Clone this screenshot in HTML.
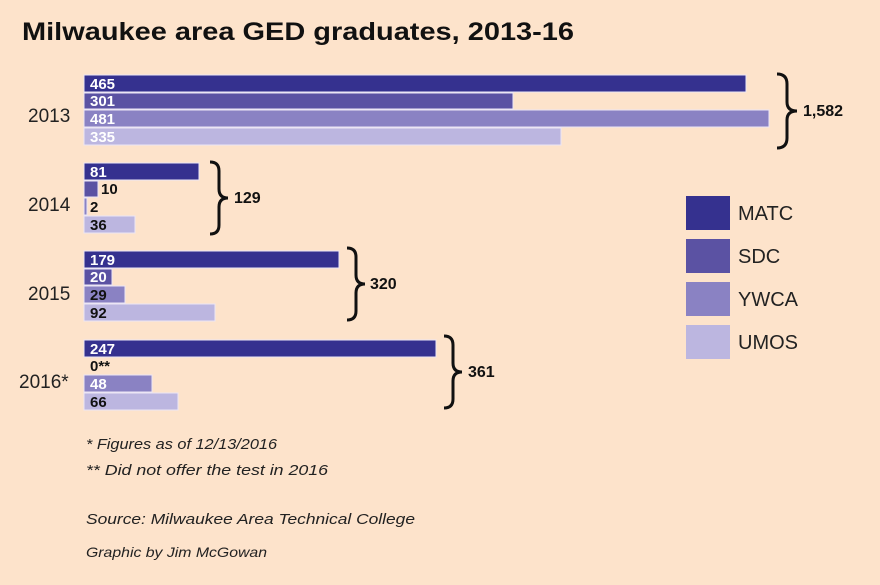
<!DOCTYPE html>
<html><head><meta charset="utf-8"><style>
html,body{margin:0;padding:0;background:#fde3cb;}
svg{display:block;font-family:"Liberation Sans",sans-serif;}
</style></head><body>
<svg width="880" height="585" viewBox="0 0 880 585">
<rect width="880" height="585" fill="#fde3cb"/>
<text x="22" y="40" font-size="25" font-weight="bold" fill="#111" textLength="552" lengthAdjust="spacingAndGlyphs">Milwaukee area GED graduates, 2013-16</text>
<g stroke="#ece6f5" stroke-width="1">
<rect x="84" y="75" width="662" height="17" fill="#35318f"/>
<rect x="84" y="93" width="429" height="16" fill="#5b52a3"/>
<rect x="84" y="110" width="685" height="17" fill="#8a82c3"/>
<rect x="84" y="128" width="477" height="17" fill="#bcb6e0"/>
<rect x="84" y="163" width="115" height="17" fill="#35318f"/>
<rect x="84" y="181" width="14" height="16" fill="#5b52a3"/>
<rect x="84" y="198" width="3" height="17" fill="#8a82c3"/>
<rect x="84" y="216" width="51" height="17" fill="#bcb6e0"/>
<rect x="84" y="251" width="255" height="17" fill="#35318f"/>
<rect x="84" y="269" width="28" height="16" fill="#5b52a3"/>
<rect x="84" y="286" width="41" height="17" fill="#8a82c3"/>
<rect x="84" y="304" width="131" height="17" fill="#bcb6e0"/>
<rect x="84" y="340" width="352" height="17" fill="#35318f"/>
<rect x="84" y="375" width="68" height="17" fill="#8a82c3"/>
<rect x="84" y="393" width="94" height="17" fill="#bcb6e0"/>
</g>
<g font-size="15" font-weight="bold">
<text x="90" y="89" fill="#fff">465</text>
<text x="90" y="106" fill="#fff">301</text>
<text x="90" y="124" fill="#fff">481</text>
<text x="90" y="142" fill="#fff">335</text>
<text x="90" y="177" fill="#fff">81</text>
<text x="101" y="194" fill="#111">10</text>
<text x="90" y="212" fill="#111">2</text>
<text x="90" y="230" fill="#111">36</text>
<text x="90" y="265" fill="#fff">179</text>
<text x="90" y="282" fill="#fff">20</text>
<text x="90" y="300" fill="#111">29</text>
<text x="90" y="318" fill="#111">92</text>
<text x="90" y="354" fill="#fff">247</text>
<text x="90" y="371" fill="#111">0**</text>
<text x="90" y="389" fill="#fff">48</text>
<text x="90" y="407" fill="#111">66</text>
</g>
<g font-size="19" fill="#222">
<text x="28" y="122">2013</text>
<text x="28" y="211">2014</text>
<text x="28" y="300">2015</text>
<text x="19" y="388">2016*</text>
</g>
<g fill="none" stroke="#111" stroke-width="3">
<path d="M777 74 Q787 74 787 84 L787 102 Q787 111 797 111 Q787 111 787 120 L787 138 Q787 148 777 148"/>
<path d="M210 162 Q219 162 219 171 L219 189 Q219 198 228 198 Q219 198 219 207 L219 225 Q219 234 210 234"/>
<path d="M347 248 Q356 248 356 257 L356 275 Q356 284 365 284 Q356 284 356 293 L356 311 Q356 320 347 320"/>
<path d="M444 336 Q453 336 453 345 L453 363 Q453 372 462 372 Q453 372 453 381 L453 399 Q453 408 444 408"/>
</g>
<g font-size="16" font-weight="bold" fill="#111">
<text x="803" y="116">1,582</text>
<text x="234" y="203">129</text>
<text x="370" y="289">320</text>
<text x="468" y="377">361</text>
</g>
<rect x="686" y="196" width="44" height="34" fill="#35318f"/>
<rect x="686" y="239" width="44" height="34" fill="#5b52a3"/>
<rect x="686" y="282" width="44" height="34" fill="#8a82c3"/>
<rect x="686" y="325" width="44" height="34" fill="#bcb6e0"/>
<g font-size="20" fill="#222">
<text x="738" y="220">MATC</text>
<text x="738" y="263">SDC</text>
<text x="738" y="306">YWCA</text>
<text x="738" y="349">UMOS</text>
</g>
<g font-size="15" font-style="italic" fill="#222">
<text x="86" y="449" textLength="191" lengthAdjust="spacingAndGlyphs">* Figures as of 12/13/2016</text>
<text x="86" y="475" textLength="242" lengthAdjust="spacingAndGlyphs">** Did not offer the test in 2016</text>
<text x="86" y="524" textLength="329" lengthAdjust="spacingAndGlyphs">Source: Milwaukee Area Technical College</text>
<text x="86" y="557" font-size="14" textLength="181" lengthAdjust="spacingAndGlyphs">Graphic by Jim McGowan</text>
</g>
</svg>
</body></html>
